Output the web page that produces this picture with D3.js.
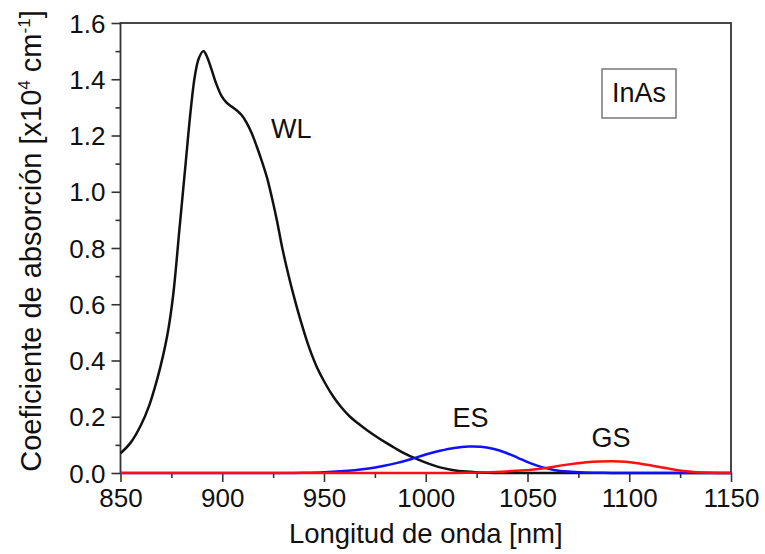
<!DOCTYPE html>
<html><head><meta charset="utf-8">
<script src="https://cdn.jsdelivr.net/npm/d3@7/dist/d3.min.js"></script>
<style>
body{margin:0;background:#fff;}
text{font-family:"Liberation Sans",Arial,sans-serif;fill:#111;}
</style></head>
<body><svg id="c" width="765" height="554"></svg>
<script>
// WL (wetting layer) absorption
const wlX = [850,855,860,864,868,871,873.5,876,879,882,884.5,886.5,888.5,890.7,892.5,894.8,897,899.7,902,904.6,907,909.6,912,914.5,917,919.4,922,924.3,926.8,929.5,932.5,935.5,939,942.5,946.4,950.5,954.6,958.7,962.8,967,971,976,980.8,985,990,995.5,1001,1007,1013,1020,1030,1040,1150];
const wlY = [0.070,0.108,0.170,0.238,0.333,0.420,0.510,0.640,0.870,1.100,1.290,1.410,1.475,1.500,1.480,1.433,1.385,1.340,1.318,1.303,1.290,1.272,1.245,1.208,1.160,1.110,1.050,0.982,0.900,0.800,0.705,0.620,0.530,0.450,0.378,0.320,0.271,0.232,0.200,0.175,0.153,0.128,0.106,0.088,0.068,0.050,0.034,0.020,0.011,0.005,0.001,0,0];
// ES (excited state)
const esX = [850,930,940,950,958,965,972,979,986,993,1000,1007,1014,1021,1027,1033,1039,1045,1051,1057,1063,1070,1078,1088,1100,1150];
const esY = [0,0,0.001,0.003,0.006,0.010,0.016,0.025,0.036,0.050,0.066,0.079,0.089,0.094,0.093,0.086,0.073,0.055,0.036,0.021,0.011,0.005,0.002,0.0005,0,0];
// GS (ground state)
const gsX = [850,1000,1020,1035,1045,1051,1060,1067.6,1079,1085,1092,1098,1105,1112,1118.4,1123,1128,1133,1140,1150];
const gsY = [0,0,0.001,0.004,0.008,0.011,0.019,0.028,0.038,0.041,0.042,0.040,0.034,0.025,0.017,0.011,0.006,0.003,0.001,0];

const xTicks = [850,900,950,1000,1050,1100,1150];
const yTicks = [0.0,0.2,0.4,0.6,0.8,1.0,1.2,1.4,1.6];
const curveLabels = ["WL","ES","GS"];
const labelPos = [[924,1.191],[1022,0.165],[1091,0.093]];

const svg = d3.select("#c");
const m = {l:120.5, r:34, t:23, b:81};
const W = 765, H = 554;
const x = d3.scaleLinear().domain([850,1150]).range([m.l, W-m.r]);
const y = d3.scaleLinear().domain([0,1.6]).range([H-m.b, m.t]);

const axisColor = "#333";
const xa = svg.append("g").attr("transform",`translate(0,${H-m.b})`)
  .call(d3.axisBottom(x).tickValues(xTicks).tickFormat(d3.format("d")).tickSize(9).tickPadding(5));
const xm = svg.append("g").attr("transform",`translate(0,${H-m.b})`)
  .call(d3.axisBottom(x).tickValues(d3.range(875,1150,50)).tickFormat("").tickSize(5));
const ya = svg.append("g").attr("transform",`translate(${m.l},0)`)
  .call(d3.axisLeft(y).tickValues(yTicks).tickFormat(d3.format(".1f")).tickSize(9).tickPadding(6));
const ym = svg.append("g").attr("transform",`translate(${m.l},0)`)
  .call(d3.axisLeft(y).tickValues(d3.range(0.1,1.6,0.2)).tickFormat("").tickSize(5));
[xa,xm,ya,ym].forEach(g=>{
  g.selectAll(".domain").remove();
  g.selectAll(".tick line").attr("stroke",axisColor).attr("stroke-width",1.6);
  g.selectAll(".tick text").attr("font-size",26).attr("fill","#111").style("font-family","'Liberation Sans',Arial,sans-serif");
});
xa.selectAll(".tick text").attr("dy","0.78em");
ya.selectAll(".tick text").attr("dy","0.35em");

svg.append("rect").attr("x",x(850)).attr("y",y(1.6)).attr("width",x(1150)-x(850)).attr("height",y(0)-y(1.6))
  .attr("fill","none").attr("stroke",axisColor).attr("stroke-width",1.8);

const line = d3.line().curve(d3.curveCatmullRom.alpha(0.5));
function draw(xs, ys, color){
  svg.append("path").attr("d", line(xs.map((v,i)=>[x(v), y(ys[i])])))
    .attr("fill","none").attr("stroke",color).attr("stroke-width",2.5).attr("stroke-linejoin","round");
}
draw(wlX, wlY, "#111");
draw(esX, esY, "#1010ff");
draw(gsX, gsY, "#ff1010");

curveLabels.forEach((t,i)=>{
  svg.append("text").attr("x",x(labelPos[i][0])).attr("y",y(labelPos[i][1])).attr("font-size",27)
    .attr("text-anchor", i===0 ? "start":"middle").text(t);
});

svg.append("rect").attr("x",602).attr("y",69).attr("width",74).attr("height",49)
  .attr("fill","#fff").attr("stroke","#777").attr("stroke-width",1.5);
svg.append("text").attr("x",639).attr("y",102).attr("text-anchor","middle").attr("font-size",27).text("InAs");

svg.append("text").attr("x",(m.l+W-m.r)/2).attr("y",543).attr("text-anchor","middle").attr("font-size",27.5)
  .text("Longitud de onda [nm]");
const yt = svg.append("text").attr("transform",`translate(41,241) rotate(-90)`)
  .attr("text-anchor","middle").attr("font-size",29);
yt.append("tspan").text("Coeficiente de absorción [x10");
yt.append("tspan").attr("dy",-11).attr("font-size",17).text("4");
yt.append("tspan").attr("dy",11).text(" cm");
yt.append("tspan").attr("dy",-11).attr("font-size",17).text("-1");
yt.append("tspan").attr("dy",11).text("]");
</script></body></html>
